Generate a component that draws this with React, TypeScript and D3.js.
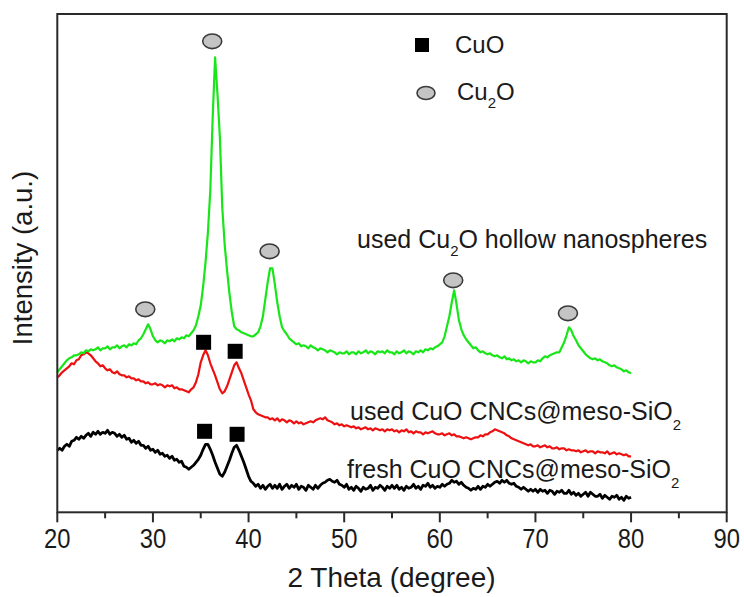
import React from "react";
import * as d3 from "d3";

const WIDTH = 744;
const HEIGHT = 597;
const FONT = "'Liberation Sans', Arial, Helvetica, sans-serif";

// x axis: 2 theta in degrees
const xTicks = [20, 30, 40, 50, 60, 70, 80, 90];
const xMinorTicks = [25, 35, 45, 55, 65, 75, 85];

// patterns are sampled every 0.25 degree from 20 to 80
const THETA_START = 20;
const THETA_END = 80;
const THETA_STEP = 0.25;

// fresh CuO CNCs@meso-SiO2 (black)
const freshCuO = [
  62, 64, 62, 66, 68, 66, 71, 72, 75, 73, 76, 74, 77, 79, 76, 80, 78, 81, 78, 80,
  79, 82, 78, 80, 79, 76, 78, 75, 77, 73, 74, 70, 72, 69, 71, 67, 67, 64, 66, 62,
  63, 60, 62, 58, 59, 56, 57, 54, 56, 52, 53, 50, 51, 46, 45, 43, 45, 47, 50, 53,
  57, 63, 68, 68, 63, 57, 50, 44, 38, 36, 40, 46, 52, 59, 65, 67, 62, 56, 50, 43,
  36, 31, 29, 26, 28, 24, 27, 23, 26, 28, 24, 27, 24, 28, 23, 26, 28, 24, 27, 25,
  28, 23, 26, 25, 22, 27, 25, 23, 27, 24, 27, 29, 30, 32, 33, 31, 30, 32, 28, 27,
  25, 28, 23, 25, 22, 26, 24, 21, 25, 23, 24, 27, 22, 25, 24, 27, 25, 22, 26, 24,
  27, 24, 27, 23, 25, 22, 26, 24, 25, 28, 24, 26, 23, 27, 26, 29, 25, 27, 24, 26,
  25, 28, 26, 28, 29, 32, 30, 31, 28, 30, 27, 25, 24, 22, 24, 23, 26, 23, 26, 25,
  28, 26, 28, 30, 31, 29, 32, 30, 32, 29, 28, 29, 26, 25, 23, 25, 23, 21, 23, 21,
  23, 20, 23, 21, 22, 19, 22, 21, 18, 21, 20, 22, 19, 19, 22, 18, 20, 17, 19, 16,
  18, 20, 16, 20, 18, 16, 16, 18, 14, 17, 15, 13, 16, 15, 17, 13, 15, 12, 16, 14,
  15,
];

// used CuO CNCs@meso-SiO2 (red)
const usedCuO = [
  135, 137, 140, 142, 144, 146, 149, 148, 152, 153, 157, 158, 160, 159, 157, 154, 151, 149, 146, 147,
  144, 142, 143, 140, 139, 141, 138, 137, 137, 135, 136, 134, 134, 132, 133, 131, 131, 129, 130, 128,
  128, 129, 127, 128, 127, 125, 127, 126, 127, 124, 125, 123, 123, 122, 121, 120, 123, 125, 130, 138,
  150, 157, 162, 157, 149, 143, 137, 130, 123, 119, 121, 126, 133, 140, 147, 150, 144, 139, 132, 125,
  118, 112, 103, 100, 98, 97, 96, 95, 95, 93, 94, 92, 94, 91, 93, 92, 90, 92, 91, 89,
  91, 89, 90, 88, 89, 90, 91, 90, 92, 93, 94, 93, 95, 92, 91, 90, 88, 89, 87, 88,
  86, 87, 86, 85, 86, 84, 85, 83, 84, 85, 83, 84, 82, 84, 83, 82, 83, 81, 83, 82,
  83, 81, 82, 80, 82, 81, 83, 80, 81, 79, 81, 80, 80, 78, 80, 79, 80, 81, 79, 78,
  78, 79, 77, 78, 79, 77, 78, 76, 76, 75, 74, 75, 74, 73, 74, 75, 75, 77, 76, 78,
  78, 80, 81, 83, 82, 81, 80, 79, 77, 76, 74, 73, 72, 71, 70, 69, 68, 67, 68, 66,
  66, 67, 65, 66, 67, 65, 66, 64, 64, 65, 63, 64, 64, 62, 63, 62, 62, 61, 62, 60,
  61, 62, 60, 61, 61, 59, 61, 60, 60, 59, 61, 58, 59, 60, 58, 59, 58, 57, 58, 56,
  56,
];

// used Cu2O hollow nanospheres (green)
const usedCu2O = [
  140, 143, 146, 149, 152, 154, 155, 157, 157, 158, 160, 159, 162, 161, 163, 162, 163, 165, 162, 164,
  164, 166, 163, 165, 165, 167, 164, 166, 167, 165, 168, 167, 169, 168, 172, 174, 178, 183, 188, 183,
  176, 172, 170, 172, 171, 169, 172, 171, 173, 171, 174, 173, 175, 174, 177, 176, 179, 182, 187, 196,
  207, 226, 250, 280, 322, 395, 455, 418, 375, 305, 268, 242, 219, 200, 186, 183, 182, 180, 179, 178,
  177, 176, 176, 178, 180, 186, 196, 213, 230, 244, 244, 228, 210, 196, 185, 181, 178, 174, 172, 170,
  168, 169, 166, 167, 166, 164, 167, 165, 164, 162, 164, 163, 162, 160, 162, 161, 160, 158, 160, 159,
  159, 161, 158, 160, 160, 158, 161, 159, 160, 162, 159, 161, 160, 158, 161, 160, 161, 159, 162, 160,
  160, 158, 161, 159, 160, 162, 159, 161, 160, 158, 161, 160, 162, 160, 163, 162, 164, 163, 165, 166,
  168, 170, 176, 186, 196, 210, 222, 208, 192, 183, 177, 173, 170, 167, 164, 165, 162, 160, 161, 159,
  158, 159, 157, 156, 157, 155, 154, 156, 153, 154, 152, 153, 151, 152, 150, 152, 151, 149, 151, 150,
  150, 152, 151, 154, 156, 155, 157, 158, 159, 160, 160, 165, 170, 177, 185, 182, 176, 172, 167, 164,
  161, 158, 156, 154, 153, 154, 152, 153, 151, 150, 149, 147, 146, 147, 145, 144, 143, 141, 142, 140,
  139,
];

// phase markers [2theta, intensity]
const cuoMarks: [number, number][] = [
  [35.3, 170], [38.6, 161],
  [35.4, 81], [38.8, 78],
];
const cu2oMarks: [number, number][] = [
  [29.2, 203], [36.2, 471], [42.2, 261], [61.4, 232], [73.4, 199],
];

const thetas = d3.range(THETA_START, THETA_END + THETA_STEP / 2, THETA_STEP);

const series = [
  { name: "fresh", values: freshCuO, color: "#000000", width: 2.8 },
  { name: "usedCuO", values: usedCuO, color: "#ee1010", width: 2.2 },
  { name: "usedCu2O", values: usedCu2O, color: "#19e619", width: 2.2 },
];

const App = () => {
  const left = 57.3;
  const right = 726.7;
  const top = 14;
  const bottom = 512.3;

  const x = d3.scaleLinear().domain([20, 90]).range([left, right]);
  const y = d3.scaleLinear().domain([0, 500]).range([bottom, bottom - 500]);

  const line = d3
    .line<number>()
    .x((_, i) => x(thetas[i]))
    .y((d) => y(d));

  const sub = (txt: string, dy: number, size: number) => (
    <tspan dy={dy} fontSize={size}>{txt}</tspan>
  );

  return (
    <svg
      width={WIDTH}
      height={HEIGHT}
      style={{ position: "absolute", left: 0, top: 0, background: "#fff" }}
      fontFamily={FONT}
    >
      <rect x={0} y={0} width={WIDTH} height={HEIGHT} fill="#fff" />

      {series.map((s) => (
        <path
          key={s.name}
          d={line(s.values) ?? ""}
          fill="none"
          stroke={s.color}
          strokeWidth={s.width}
          strokeLinejoin="round"
        />
      ))}

      {cuoMarks.map(([t, v], i) => (
        <rect key={"s" + i} x={x(t) - 7.5} y={y(v) - 7.5} width={15} height={15} fill="#000" />
      ))}
      {cu2oMarks.map(([t, v], i) => (
        <ellipse
          key={"e" + i}
          cx={x(t)}
          cy={y(v)}
          rx={9.5}
          ry={7.3}
          fill="#c4c4c4"
          stroke="#3a3a3a"
          strokeWidth={1.6}
        />
      ))}

      {/* frame */}
      <rect
        x={left}
        y={top}
        width={right - left}
        height={bottom - top}
        fill="none"
        stroke="#2a2a2a"
        strokeWidth={2}
      />

      {/* x ticks */}
      {xTicks.map((t) => (
        <line key={"t" + t} x1={x(t)} x2={x(t)} y1={bottom} y2={bottom + 10} stroke="#2a2a2a" strokeWidth={2} />
      ))}
      {xMinorTicks.map((t) => (
        <line key={"m" + t} x1={x(t)} x2={x(t)} y1={bottom} y2={bottom + 6} stroke="#2a2a2a" strokeWidth={2} />
      ))}
      {xTicks.map((t) => (
        <text
          key={"l" + t}
          transform={`translate(${x(t)},548) scale(0.88,1)`}
          textAnchor="middle"
          fontSize={27}
          fill="#1a1a1a"
        >
          {t}
        </text>
      ))}

      <text x={(left + right) / 2 - 0.5} y={587} textAnchor="middle" fontSize={28} fill="#1a1a1a">
        2 Theta (degree)
      </text>
      <text
        transform={`translate(32,258) rotate(-90)`}
        textAnchor="middle"
        fontSize={27.5}
        fill="#1a1a1a"
      >
        Intensity (a.u.)
      </text>

      {/* legend */}
      <rect x={415} y={38} width={14} height={14} fill="#000" />
      <text x={455} y={53} fontSize={24} fill="#1a1a1a">CuO</text>
      <ellipse cx={426} cy={93} rx={9} ry={6.5} fill="#c4c4c4" stroke="#3a3a3a" strokeWidth={1.6} />
      <text x={457} y={100} fontSize={24} fill="#1a1a1a">
        Cu{sub("2", 8, 15)}<tspan dy={-8}>O</tspan>
      </text>

      {/* curve labels */}
      <text x={357} y={248} fontSize={25} fill="#1a1a1a">
        used Cu{sub("2", 8, 15)}<tspan dy={-8}>O hollow nanospheres</tspan>
      </text>
      <text x={350} y={420} fontSize={25} fill="#1a1a1a">
        used CuO CNCs@meso-SiO{sub("2", 10, 15)}
      </text>
      <text x={347} y={478} fontSize={25} fill="#1a1a1a">
        fresh CuO CNCs@meso-SiO{sub("2", 10, 15)}
      </text>
    </svg>
  );
};

export default App;
